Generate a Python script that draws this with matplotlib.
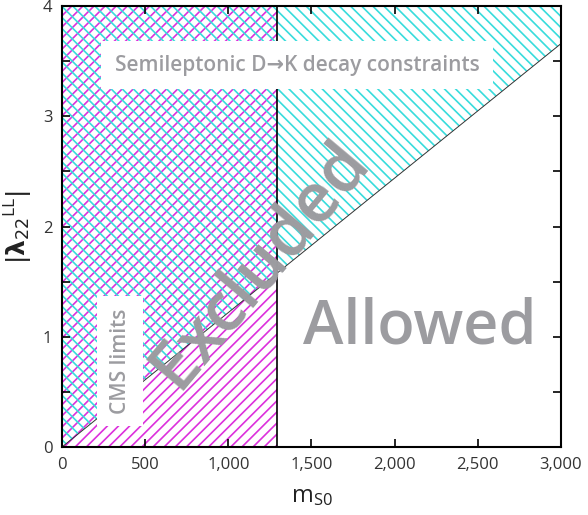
import matplotlib.pyplot as plt
import numpy as np
from matplotlib.ticker import FuncFormatter, MultipleLocator

# parameter space
x_range = [0, 3000]
y_range = [0, 4]
cms_limit = 1290          # CMS lower bound on m_S0
dk_edge_m = [0, 3000]     # semileptonic D->K boundary
dk_edge_lam = [0, 3.66]

magenta = '#dc30dc'
cyan = '#38dcdc'
gray = '#9c9ca0'

plt.rcParams['font.family'] = ['Open Sans', 'DejaVu Sans']
plt.rcParams['mathtext.fontset'] = 'dejavusans'
plt.rcParams['hatch.linewidth'] = 1.2

fig = plt.figure(figsize=(5.88, 5.15), dpi=100)
ax = fig.add_axes([0.1054, 0.132, 0.8486, 0.856])

# CMS excluded region
ax.fill_between([x_range[0], cms_limit], y_range[0], y_range[1],
                facecolor='none', edgecolor=magenta, hatch='///', linewidth=0)
# D->K excluded region (above the line)
ax.fill_between(dk_edge_m, dk_edge_lam, y_range[1],
                facecolor='none', edgecolor=cyan, hatch='\\\\\\', linewidth=0)
ax.plot(dk_edge_m, dk_edge_lam, color='#333333', lw=0.7)
ax.axvline(cms_limit, color='black', lw=1.2)

ax.text(1413, 3.465, 'Semileptonic D\u2192K decay constraints', color=gray,
        fontsize=15, fontweight='semibold', ha='center', va='center',
        bbox=dict(boxstyle='square,pad=0.65', fc='white', ec='none'))
ax.text(349, 0.78, 'CMS limits', color=gray, fontsize=15, fontweight='semibold',
        rotation=90, ha='center', va='center',
        bbox=dict(boxstyle='square,pad=0.6', fc='white', ec='none'))
ax.text(1190, 1.66, 'Excluded', color=gray, fontsize=50, fontweight='semibold',
        rotation=50, rotation_mode='anchor', ha='center', va='center')
ax.text(2152, 1.08, 'Allowed', color=gray, fontsize=44, fontweight='semibold',
        ha='center', va='center')

ax.set_xlim(x_range)
ax.set_ylim(y_range)
ax.xaxis.set_major_locator(MultipleLocator(500))
ax.yaxis.set_major_locator(MultipleLocator(1))
ax.yaxis.set_minor_locator(MultipleLocator(0.5))
ax.xaxis.set_major_formatter(FuncFormatter(lambda v, p: f'{int(v):,}'))
ax.tick_params(which='both', direction='in', top=True, right=True,
               length=6, width=1.2, labelsize=12, labelcolor='#333333', pad=7)
for lbl in ax.get_xticklabels() + ax.get_yticklabels():
    lbl.set_fontweight('medium')
for s in ax.spines.values():
    s.set_linewidth(1.5)

ax.set_xlabel(r'$\mathregular{m_{S0}}$', fontsize=17, color='#222222', labelpad=8)
ax.set_ylabel(r'$|\mathbf{\lambda}_{22}{}^{\mathregular{LL}}|$', fontsize=18,
              color='#222222', labelpad=6)

fig.savefig('out.png', dpi=100)
